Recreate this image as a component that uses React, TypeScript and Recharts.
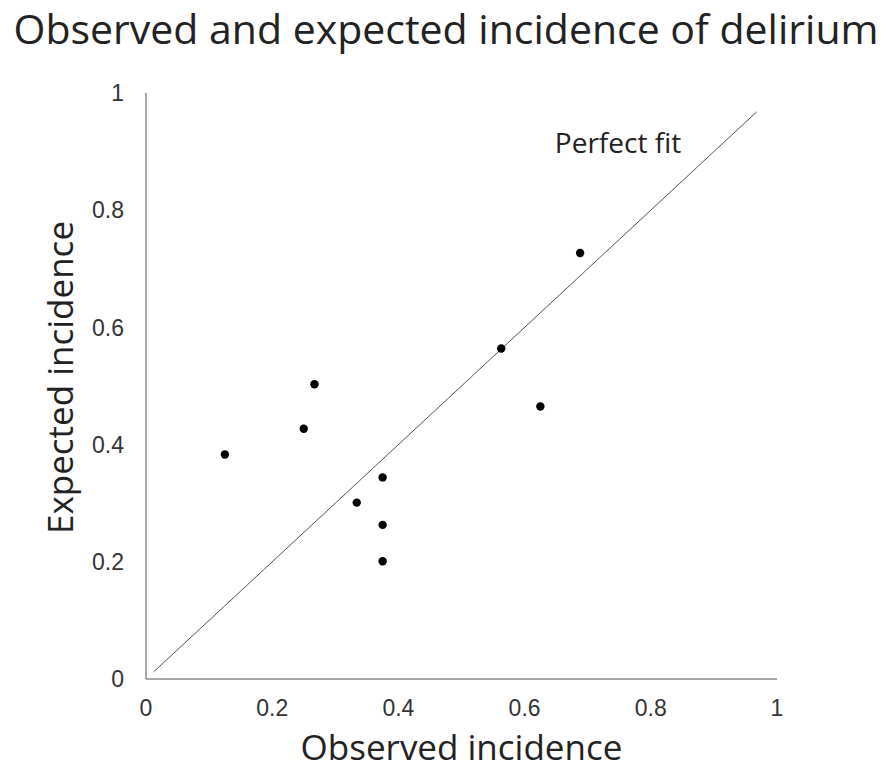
import { ScatterChart, Scatter, XAxis, YAxis, ReferenceLine, Label } from 'recharts';

const observed = [0.125, 0.25, 0.267, 0.334, 0.375, 0.375, 0.375, 0.563, 0.625, 0.688];
const expected = [0.383, 0.427, 0.503, 0.301, 0.344, 0.263, 0.201, 0.564, 0.465, 0.727];
const ticks = [0, 0.2, 0.4, 0.6, 0.8, 1];
const fitRange = [0.012, 0.968];

const points = observed.map((x, i) => ({ x, y: expected[i] }));

const labelFont = '"Open Sans", "DejaVu Sans", sans-serif';
const tickFont = '"Liberation Sans", Arial, sans-serif';

export default function App() {
  return (
    <div style={{ position: 'absolute', left: 0, top: 0, width: 894, height: 771, background: '#fff' }}>
      <svg width={894} height={70} style={{ position: 'absolute', left: 0, top: 0 }}>
        <text x={446} y={44} textAnchor="middle" fontFamily={labelFont} fontSize={41} fill="#222">
          Observed and expected incidence of delirium
        </text>
      </svg>
      <ScatterChart width={894} height={771} margin={{ top: 93, right: 117, bottom: 0, left: 0 }}>
        <XAxis
          type="number"
          dataKey="x"
          domain={[0, 1]}
          ticks={ticks}
          height={92}
          tickLine={false}
          tickSize={0}
          tickMargin={21}
          axisLine={{ stroke: '#8a8a8a', strokeWidth: 1.5 }}
          tick={{ fill: '#333', fontSize: 23, fontFamily: tickFont }}
        >
          <Label
            content={() => (
              <text x={461.5} y={760} textAnchor="middle" fontFamily={labelFont} fontSize={35} fill="#222">
                Observed incidence
              </text>
            )}
          />
        </XAxis>
        <YAxis
          type="number"
          dataKey="y"
          domain={[0, 1]}
          ticks={ticks}
          width={146}
          tickLine={false}
          tickSize={0}
          tickMargin={22}
          axisLine={{ stroke: '#8a8a8a', strokeWidth: 1.5 }}
          tick={{ fill: '#333', fontSize: 23, fontFamily: tickFont }}
        >
          <Label
            content={() => (
              <text
                x={73}
                y={377.5}
                textAnchor="middle"
                transform="rotate(-90, 73, 377.5)"
                fontFamily={labelFont}
                fontSize={35}
                fill="#222"
              >
                Expected incidence
              </text>
            )}
          />
        </YAxis>
        <ReferenceLine
          segment={[
            { x: fitRange[0], y: fitRange[0] },
            { x: fitRange[1], y: fitRange[1] },
          ]}
          stroke="#555"
          strokeWidth={1}
          ifOverflow="visible"
        />
        <Scatter data={points} fill="#000" isAnimationActive={false} shape={(p: any) => <circle cx={p.cx} cy={p.cy} r={4.2} fill="#000" />} />
      </ScatterChart>
      <svg width={894} height={771} style={{ position: 'absolute', left: 0, top: 0, pointerEvents: 'none' }}>
        <text x={618} y={153} textAnchor="middle" fontFamily={labelFont} fontSize={28} fill="#222">
          Perfect fit
        </text>
      </svg>
    </div>
  );
}
